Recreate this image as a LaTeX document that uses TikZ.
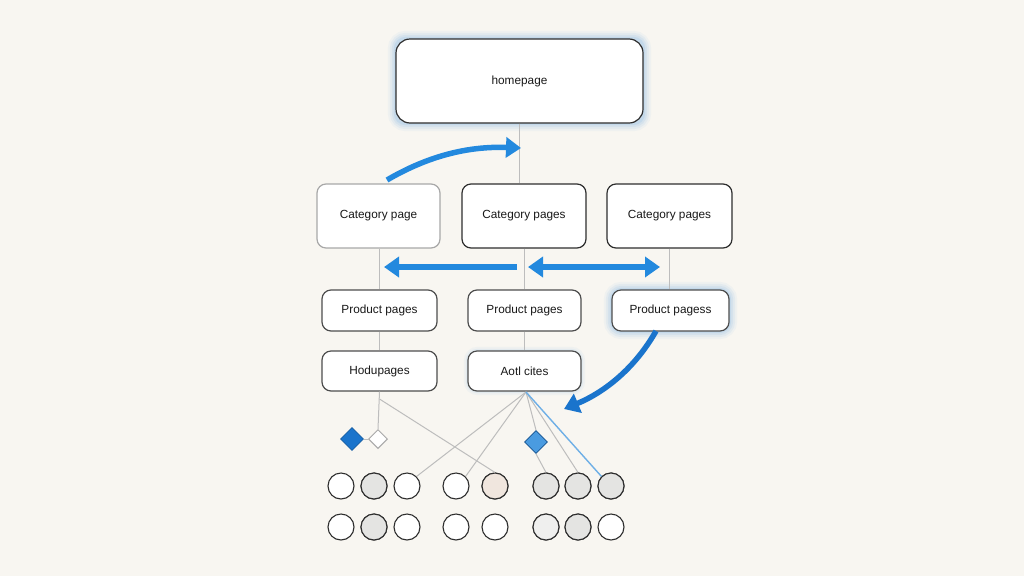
\documentclass[tikz,border=0pt]{standalone}
\usepackage{fontspec}
\setmainfont{Liberation Sans}
\usetikzlibrary{arrows.meta,shapes.geometric}
\definecolor{bg}{HTML}{F8F6F1}
\definecolor{edge}{HTML}{2E2E2E}
\definecolor{lightedge}{HTML}{A8A8A8}
\definecolor{conn}{HTML}{BDBDBD}
\definecolor{blueA}{HTML}{2389DE}
\definecolor{blueB}{HTML}{1A74CC}
\definecolor{glow}{HTML}{4A9BE0}
\definecolor{cgray}{HTML}{E4E4E2}
\definecolor{cpeach}{HTML}{F0E6DE}
\tikzset{
  box/.style={draw=edge, line width=1.2pt, fill=white, rounded corners=9pt, font=\fontsize{11.8}{14}\selectfont, text=black!90, inner sep=0pt},
  lightbox/.style={box, draw=lightedge},
  conn/.style={draw=conn, line width=1pt},
  bigarrow/.style={line width=5.5pt, -{Triangle[length=15pt,width=20pt]}},
  dot/.style={circle, draw=edge, line width=1.1pt, minimum size=26pt, inner sep=0pt, fill=white},
  dia/.style={diamond, inner sep=0pt, minimum size=23pt},
}
\newcommand{\glowbox}[1]{%
  \foreach \w/\o in {16/0.05,12/0.07,8/0.09,4/0.12}{
    \draw[glow, line width=\w pt, opacity=\o, rounded corners=10pt] (#1.north west) rectangle (#1.south east);
  }}
\begin{document}
\begin{tikzpicture}[x=1pt,y=-1pt]
\fill[bg] (0,0) rectangle (1024,576);
\useasboundingbox (0,0) rectangle (1024,576);

% glows (drawn first with placeholder nodes)
\path (519.5,81) node[minimum width=247pt,minimum height=84pt,inner sep=0pt] (hg) {};
\path (670.5,310.5) node[minimum width=117pt,minimum height=41pt,inner sep=0pt] (p3g) {};
\path (524.5,371) node[minimum width=113pt,minimum height=40pt,inner sep=0pt] (ag) {};
\glowbox{hg}
\glowbox{p3g}
\foreach \w/\o in {8/0.05,4/0.08}{
  \draw[glow, line width=\w pt, opacity=\o, rounded corners=10pt] (ag.north west) rectangle (ag.south east);
}

% boxes
\node[box, minimum width=247pt, minimum height=84pt, rounded corners=14pt] (home) at (519.5,81) {homepage};
\node[lightbox, minimum width=123pt, minimum height=64pt] (cat1) at (378.5,216) {Category page};
\node[box, minimum width=124pt, minimum height=64pt] (cat2) at (524,216) {Category pages};
\node[box, minimum width=125pt, minimum height=64pt] (cat3) at (669.5,216) {Category pages};
\node[box, draw=edge!85, minimum width=115pt, minimum height=41pt] (p1) at (379.5,310.5) {Product pages};
\node[box, draw=edge!85, minimum width=113pt, minimum height=41pt] (p2) at (524.5,310.5) {Product pages};
\node[box, draw=edge!85, minimum width=117pt, minimum height=41pt] (p3) at (670.5,310.5) {Product pagess};
\node[box, draw=edge!85, minimum width=115pt, minimum height=40pt] (h) at (379.5,371) {Hodupages};
\node[box, draw=edge!85, minimum width=113pt, minimum height=40pt] (a) at (524.5,371) {Aotl cites};

% circles
\foreach \x [count=\i] in {341,374,407,456,495,546,578,611}{
  \node[dot] (r\i) at (\x,486) {};
  \node[dot] (s\i) at (\x,527) {};
}
\foreach \n in {r2,r6,r7,r8,s2,s7}{ \node[dot, fill=cgray] at (\n) {}; }
\node[dot, fill=cpeach] at (r5) {};
\node[dot, fill=cgray!60] at (s6) {};

% diamonds
\node[dia, fill=blueB, draw=blueB!80!black, line width=0.6pt] (bd) at (352,439) {};
\node[dia, fill=white, draw=lightedge, line width=1pt, minimum size=19pt] (wd) at (378,439) {};
\node[dia, fill=glow, draw=blueB!70!black, line width=0.8pt] (bd2) at (536,442) {};

% connectors
\coordinate (hs) at (home.south);
\draw[conn] (hs) -- (hs |- cat2.north);
\draw[conn] (p1.north |- cat1.south) -- (p1.north);
\draw[conn] (p2.north |- cat2.south) -- (p2.north);
\draw[conn] (cat3.south) -- (cat3.south |- p3.north);
\draw[conn] (p1.south) -- (h.north);
\draw[conn] (p2.south) -- (a.north);
\draw[conn] (h.south) -- (wd.north);
\draw[conn] (bd.east) -- (wd.west);
\coordinate (hd) at (379.5,399);
\draw[conn] (hd) -- (r5.north);
\coordinate (ap) at (526,392);
\draw[conn] (ap) -- (r3.north east);
\draw[conn] (ap) -- (r4.north east);
\draw[conn] (ap) -- (bd2.north);
\draw[conn] (bd2.south) -- (r6.north);
\draw[conn] (ap) -- (r7.north);
\draw[draw=glow!80, line width=1.4pt] (ap) -- (r8.north west);

% blue arrows
\coordinate (a1s) at (387,180);
\coordinate (a1e) at (521,148);
\draw[blueA, bigarrow] (a1s) .. controls (428,156) and (468,146) .. (a1e);
\coordinate (a2s) at (517,267);
\coordinate (a2e) at (384,267);
\draw[blueA, bigarrow] (a2s) -- (a2e);
\coordinate (a3s) at (528,267);
\coordinate (a3e) at (660,267);
\draw[blueA, line width=5.5pt, {Triangle[length=15pt,width=20pt]}-{Triangle[length=15pt,width=20pt]}] (a3s) -- (a3e);
\coordinate (a4s) at (656,331);
\coordinate (a4e) at (564,409);
\draw[blueB, bigarrow] (a4s) .. controls (635,368) and (605,392) .. (a4e);
\end{tikzpicture}
\end{document}
